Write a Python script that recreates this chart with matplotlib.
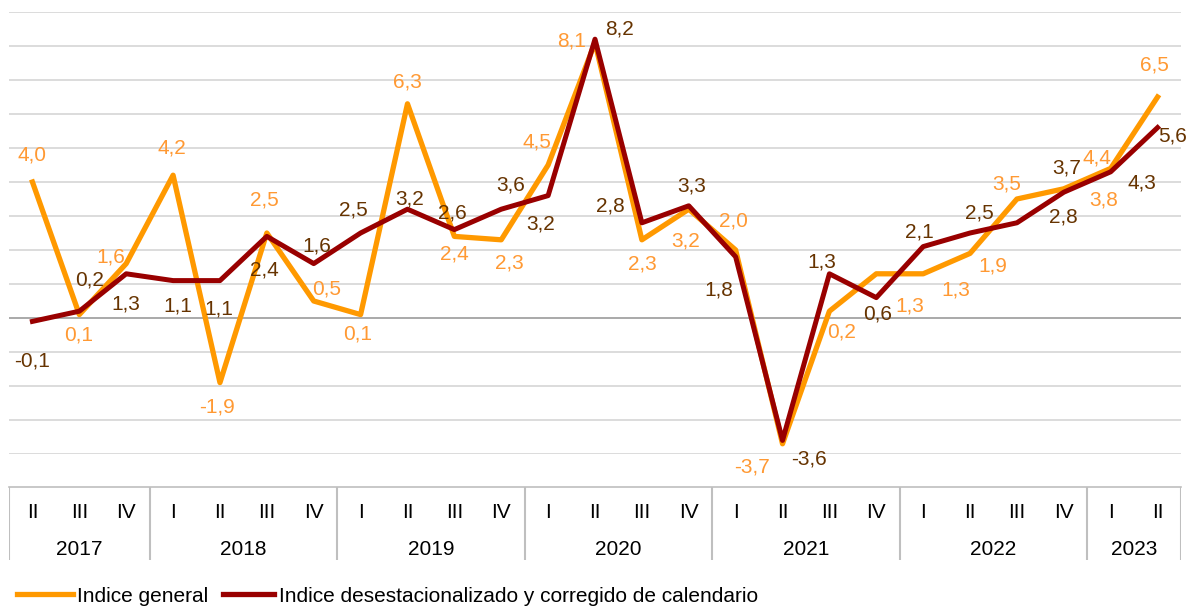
import matplotlib
matplotlib.use("Agg")
import matplotlib.pyplot as plt
from matplotlib.lines import Line2D

plt.rcParams['font.family'] = ['Liberation Sans', 'DejaVu Sans']

# ---- data ----
quarters = ['II', 'III', 'IV',
            'I', 'II', 'III', 'IV',
            'I', 'II', 'III', 'IV',
            'I', 'II', 'III', 'IV',
            'I', 'II', 'III', 'IV',
            'I', 'II', 'III', 'IV',
            'I', 'II']
year_labels = ['2017', '2018', '2019', '2020', '2021', '2022', '2023']
year_counts = [3, 4, 4, 4, 4, 4, 2]

indice_general = [4.0, 0.1, 1.6, 4.2, -1.9, 2.5, 0.5, 0.1, 6.3, 2.4, 2.3, 4.5, 8.1,
                  2.3, 3.2, 2.0, -3.7, 0.2, 1.3, 1.3, 1.9, 3.5, 3.8, 4.4, 6.5]
indice_desest = [-0.1, 0.2, 1.3, 1.1, 1.1, 2.4, 1.6, 2.5, 3.2, 2.6, 3.2, 3.6, 8.2,
                 2.8, 3.3, 1.8, -3.6, 1.3, 0.6, 2.1, 2.5, 2.8, 3.7, 4.3, 5.6]

series_names = ['Indice general',
                'Indice desestacionalizado y corregido de calendario']

# ---- styling ----
W, H = 1195, 606
ORANGE = '#FF9900'
ORANGE_TXT = '#FF9933'
DARK = '#990000'
DARK_TXT = '#663300'
FS = 15

# label offsets in pixels (dx right, dy down) relative to each point
off_general = [(0, -29), (-1, 18), (-15, -9), (-1, -29), (-3, 22), (-2, -35), (13, -14),
               (-3, 17), (0, -24), (0, 16), (8, 21), (-11, -25), (-23, -4), (0, 22),
               (-3, 30), (-2, -31), (-31, 21), (12, 19), (34, 30), (33, 14), (23, 11),
               (-10, -17), (40, 9), (-14, -12), (-3, -34)]
off_desest = [(0, 38), (10, -33), (0, 28), (5, 23), (-1, 26), (-2, 32), (3, -20),
              (-7, -25), (2, -12), (-2, -19), (39, 13), (-37, -13), (24, -12), (-32, -19),
              (3, -22), (-17, 31), (26, 17), (-8, -14), (1, 14), (-4, -17), (9, -22),
              (46, -8), (3, -26), (31, 9), (15, 6)]

fig = plt.figure(figsize=(W / 100, H / 100), dpi=100)

ax_l, ax_r = 9, 1181
ax_top, ax_bot = 12, 454
ax = fig.add_axes([ax_l / W, 1 - ax_bot / H, (ax_r - ax_l) / W, (ax_bot - ax_top) / H])
n = len(quarters)
x = list(range(n))
ax.set_xlim(-0.5, n - 0.5)
ax.set_ylim(-4, 9)
ax.set_yticks(range(-4, 10))
ax.set_xticks([])
ax.tick_params(left=False, labelleft=False)
ax.yaxis.grid(True, color='#D9D9D9', lw=1.3)
ax.set_axisbelow(True)
for s in ax.spines.values():
    s.set_visible(False)
ax.axhline(0, color='#A6A6A6', lw=1.3, zorder=1)

ax.plot(x, indice_general, color=ORANGE, lw=3.8, solid_joinstyle='round', zorder=3)
ax.plot(x, indice_desest, color=DARK, lw=3.6, solid_joinstyle='round', zorder=4)


def fmt(v):
    return f"{v:.1f}".replace('.', ',')


for xi, v, (dx, dy) in zip(x, indice_general, off_general):
    ax.annotate(fmt(v), (xi, v), xytext=(dx, -(dy + 7.5)), textcoords='offset pixels',
                ha='center', va='baseline', fontsize=FS, color=ORANGE_TXT, zorder=5,
                annotation_clip=False)
for xi, v, (dx, dy) in zip(x, indice_desest, off_desest):
    ax.annotate(fmt(v), (xi, v), xytext=(dx, -(dy + 7.5)), textcoords='offset pixels',
                ha='center', va='baseline', fontsize=FS, color=DARK_TXT, zorder=5,
                annotation_clip=False)

# ---- category table ----
t_top, t_bot = 487, 560
tax = fig.add_axes([ax_l / W, 1 - t_bot / H, (ax_r - ax_l) / W, (t_bot - t_top) / H])
tax.set_xlim(-0.5, n - 0.5)
tax.set_ylim(0, 1)
tax.axis('off')
tax.axhline(1, color='#BFBFBF', lw=1.2, clip_on=False)
qy = (t_bot - 517.5) / (t_bot - t_top)
yy = (t_bot - 555) / (t_bot - t_top)
for xi, q in zip(x, quarters):
    tax.text(xi, qy, q, ha='center', va='baseline', fontsize=FS, color='black')
start = -0.5
tax.axvline(start, color='#BFBFBF', lw=1.5)
for lab, cnt in zip(year_labels, year_counts):
    end = start + cnt
    tax.text((start + end) / 2, yy, lab, ha='center', va='baseline', fontsize=FS, color='black')
    tax.axvline(end, color='#BFBFBF', lw=1.5)
    start = end

# ---- legend ----
ly = 1 - 594 / H
fig.add_artist(Line2D([17 / W, 73 / W], [ly, ly], transform=fig.transFigure,
                      color=ORANGE, lw=3.8))
fig.text(77 / W, 1 - 601.5 / H, series_names[0], fontsize=FS, va='baseline', color='black')
fig.add_artist(Line2D([223 / W, 274 / W], [ly, ly], transform=fig.transFigure,
                      color=DARK, lw=3.8))
fig.text(279 / W, 1 - 601.5 / H, series_names[1], fontsize=FS, va='baseline', color='black')

fig.savefig('out.png', dpi=100)
